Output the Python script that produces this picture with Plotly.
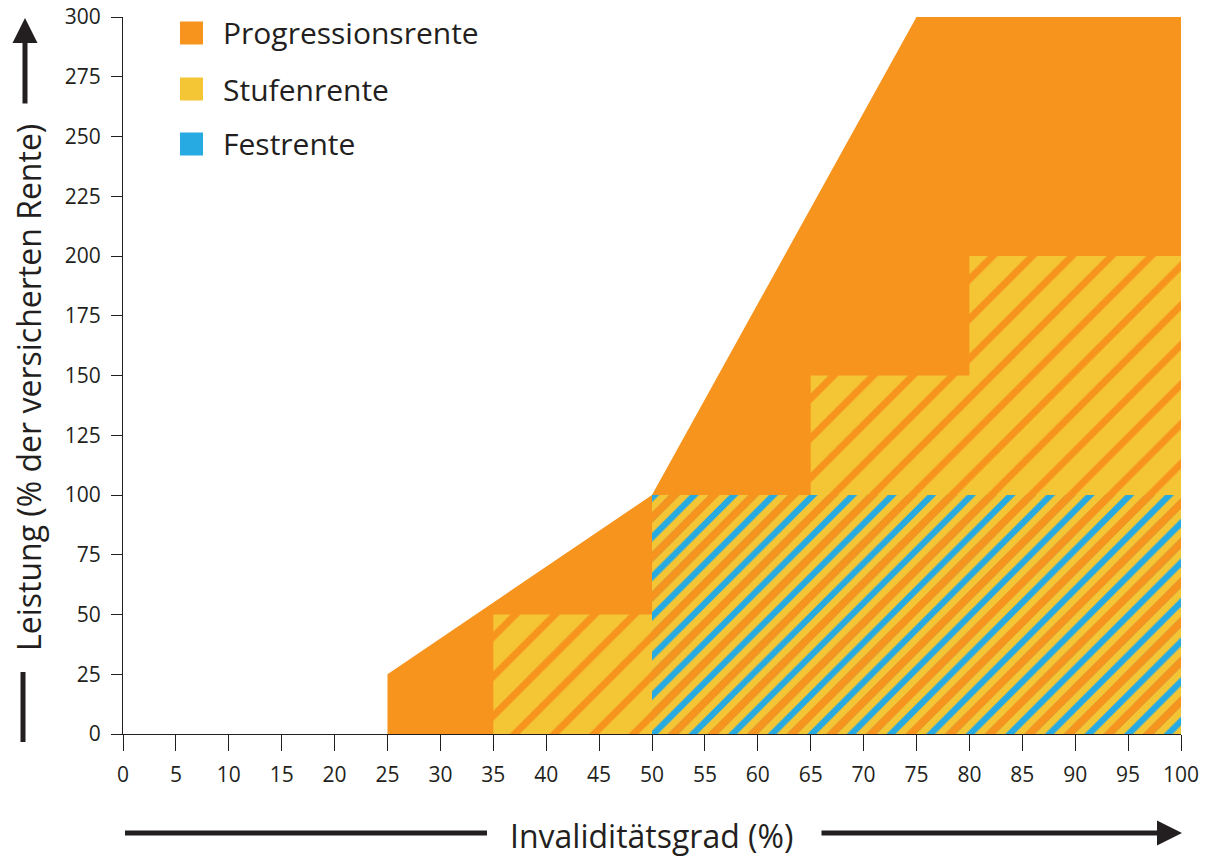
import plotly.graph_objects as go

# ---- data ----
x_ticks = list(range(0, 101, 5))
y_ticks = list(range(0, 301, 25))

prog_x = [25, 25, 50, 75, 100]
prog_y = [0, 25, 100, 300, 300]

stufen_x = [35, 50, 65, 80, 100]
stufen_y = [50, 100, 150, 200, 200]

fest_x = [50, 100]
fest_y = [100, 100]

legend_names = ["Progressionsrente", "Stufenrente", "Festrente"]

ORANGE = "#F7941D"
YELLOW = "#F4C534"
BLUE = "#27AAE1"
DARK = "#231F20"
FONT = "Open Sans"

fig = go.Figure()

fig.add_trace(go.Scatter(
    x=prog_x, y=prog_y, mode="lines", line=dict(width=0, color=ORANGE),
    fill="tozeroy", fillcolor=ORANGE, name=legend_names[0], showlegend=False,
    hoverinfo="skip"))

fig.add_trace(go.Scatter(
    x=stufen_x, y=stufen_y, mode="lines", line=dict(width=0, color=YELLOW, shape="hv"),
    fill="tozeroy", fillcolor=YELLOW,
    fillpattern=dict(shape="/", fgcolor=ORANGE, bgcolor=YELLOW, fgopacity=1,
                     size=28, solidity=0.25, fillmode="replace"),
    name=legend_names[1], showlegend=False, hoverinfo="skip"))

fig.add_trace(go.Scatter(
    x=fest_x, y=fest_y, mode="lines", line=dict(width=0, color=BLUE),
    fill="tozeroy", fillcolor="rgba(0,0,0,0)",
    fillpattern=dict(shape="/", fgcolor=BLUE, bgcolor="rgba(0,0,0,0)", fgopacity=1,
                     size=14, solidity=0.45, fillmode="replace"),
    name=legend_names[2], showlegend=False, hoverinfo="skip"))

fig.add_trace(go.Scatter(
    x=fest_x, y=fest_y, mode="lines", line=dict(width=0, color=ORANGE),
    fill="tozeroy", fillcolor="rgba(0,0,0,0)",
    fillpattern=dict(shape="/", fgcolor=ORANGE, bgcolor="rgba(0,0,0,0)", fgopacity=1,
                     size=28, solidity=0.26, fillmode="replace"),
    showlegend=False, hoverinfo="skip"))

# figure fills the whole window (body margin removed by post_script below)
W, H = 1205, 857
PL, PR, PT, PB = 123, 1181, 17, 734  # plot area in window pixels
L, R, T, B = PL, W - PR, PT, H - PB
pw, ph = PR - PL, PB - PT


def px(xpix):
    return (xpix - PL) / pw


def py(ypix):
    return (PB - ypix) / ph


shapes = []
annotations = []

# custom legend
legend_colors = [ORANGE, YELLOW, BLUE]
legend_y = [33, 89, 144]
for name, col, yc in zip(legend_names, legend_colors, legend_y):
    shapes.append(dict(type="rect", xref="paper", yref="paper",
                       x0=px(180), x1=px(203), y0=py(yc + 11.5), y1=py(yc - 11.5),
                       fillcolor=col, line=dict(width=0)))
    annotations.append(dict(xref="paper", yref="paper", x=px(221), y=py(yc),
                            text=name, showarrow=False, xanchor="left", yanchor="middle",
                            font=dict(family=FONT, size=30, color=DARK)))

# axis titles
annotations.append(dict(xref="paper", yref="paper", x=px(651), y=py(835),
                        text="Invaliditätsgrad (%)", showarrow=False,
                        xanchor="center", yanchor="middle",
                        font=dict(family=FONT, size=32, color=DARK)))
annotations.append(dict(xref="paper", yref="paper", x=px(28), y=py(388),
                        text="Leistung (% der versicherten Rente)", showarrow=False,
                        textangle=-90, xanchor="center", yanchor="middle",
                        font=dict(family=FONT, size=32, color=DARK)))

# arrows
annotations.append(dict(xref="paper", yref="paper", x=px(1182), y=py(833),
                        ax=-362, ay=0, axref="pixel", ayref="pixel", text="",
                        showarrow=True, arrowhead=2, arrowsize=1.0, arrowwidth=5,
                        arrowcolor=DARK, standoff=0))
annotations.append(dict(xref="paper", yref="paper", x=px(25), y=py(18),
                        ax=0, ay=87, axref="pixel", ayref="pixel", text="",
                        showarrow=True, arrowhead=2, arrowsize=1.0, arrowwidth=5,
                        arrowcolor=DARK, standoff=0))
# plain lines
shapes.append(dict(type="line", xref="paper", yref="paper",
                   x0=px(125), x1=px(487), y0=py(833), y1=py(833),
                   line=dict(color=DARK, width=5)))
shapes.append(dict(type="line", xref="paper", yref="paper",
                   x0=px(23), x1=px(23), y0=py(672), y1=py(742),
                   line=dict(color=DARK, width=5)))

fig.update_layout(
    width=W, height=H,
    margin=dict(l=L, r=R, t=T, b=B, autoexpand=False),
    paper_bgcolor="white", plot_bgcolor="white",
    showlegend=False,
    shapes=shapes, annotations=annotations,
    xaxis=dict(range=[0, 100], tickvals=x_ticks, ticktext=[str(v) for v in x_ticks],
               ticks="outside", ticklen=16, tickwidth=1, tickcolor=DARK,
               showline=True, linecolor=DARK, linewidth=1, showgrid=False, zeroline=False,
               tickfont=dict(family=FONT, size=21, color=DARK), ticklabelstandoff=6,
               ticklabeloverflow="allow", fixedrange=True),
    yaxis=dict(range=[0, 300], tickvals=y_ticks, ticktext=[str(v) for v in y_ticks],
               ticks="outside", ticklen=11, tickwidth=1, tickcolor=DARK,
               showline=True, linecolor=DARK, linewidth=1, showgrid=False, zeroline=False,
               tickfont=dict(family=FONT, size=21, color=DARK), ticklabelstandoff=6,
               ticklabeloverflow="allow", fixedrange=True),
)

fig.write_html("out.html", config={"displayModeBar": False},
               post_script="document.body.style.margin='0';document.body.style.overflow='hidden';")
